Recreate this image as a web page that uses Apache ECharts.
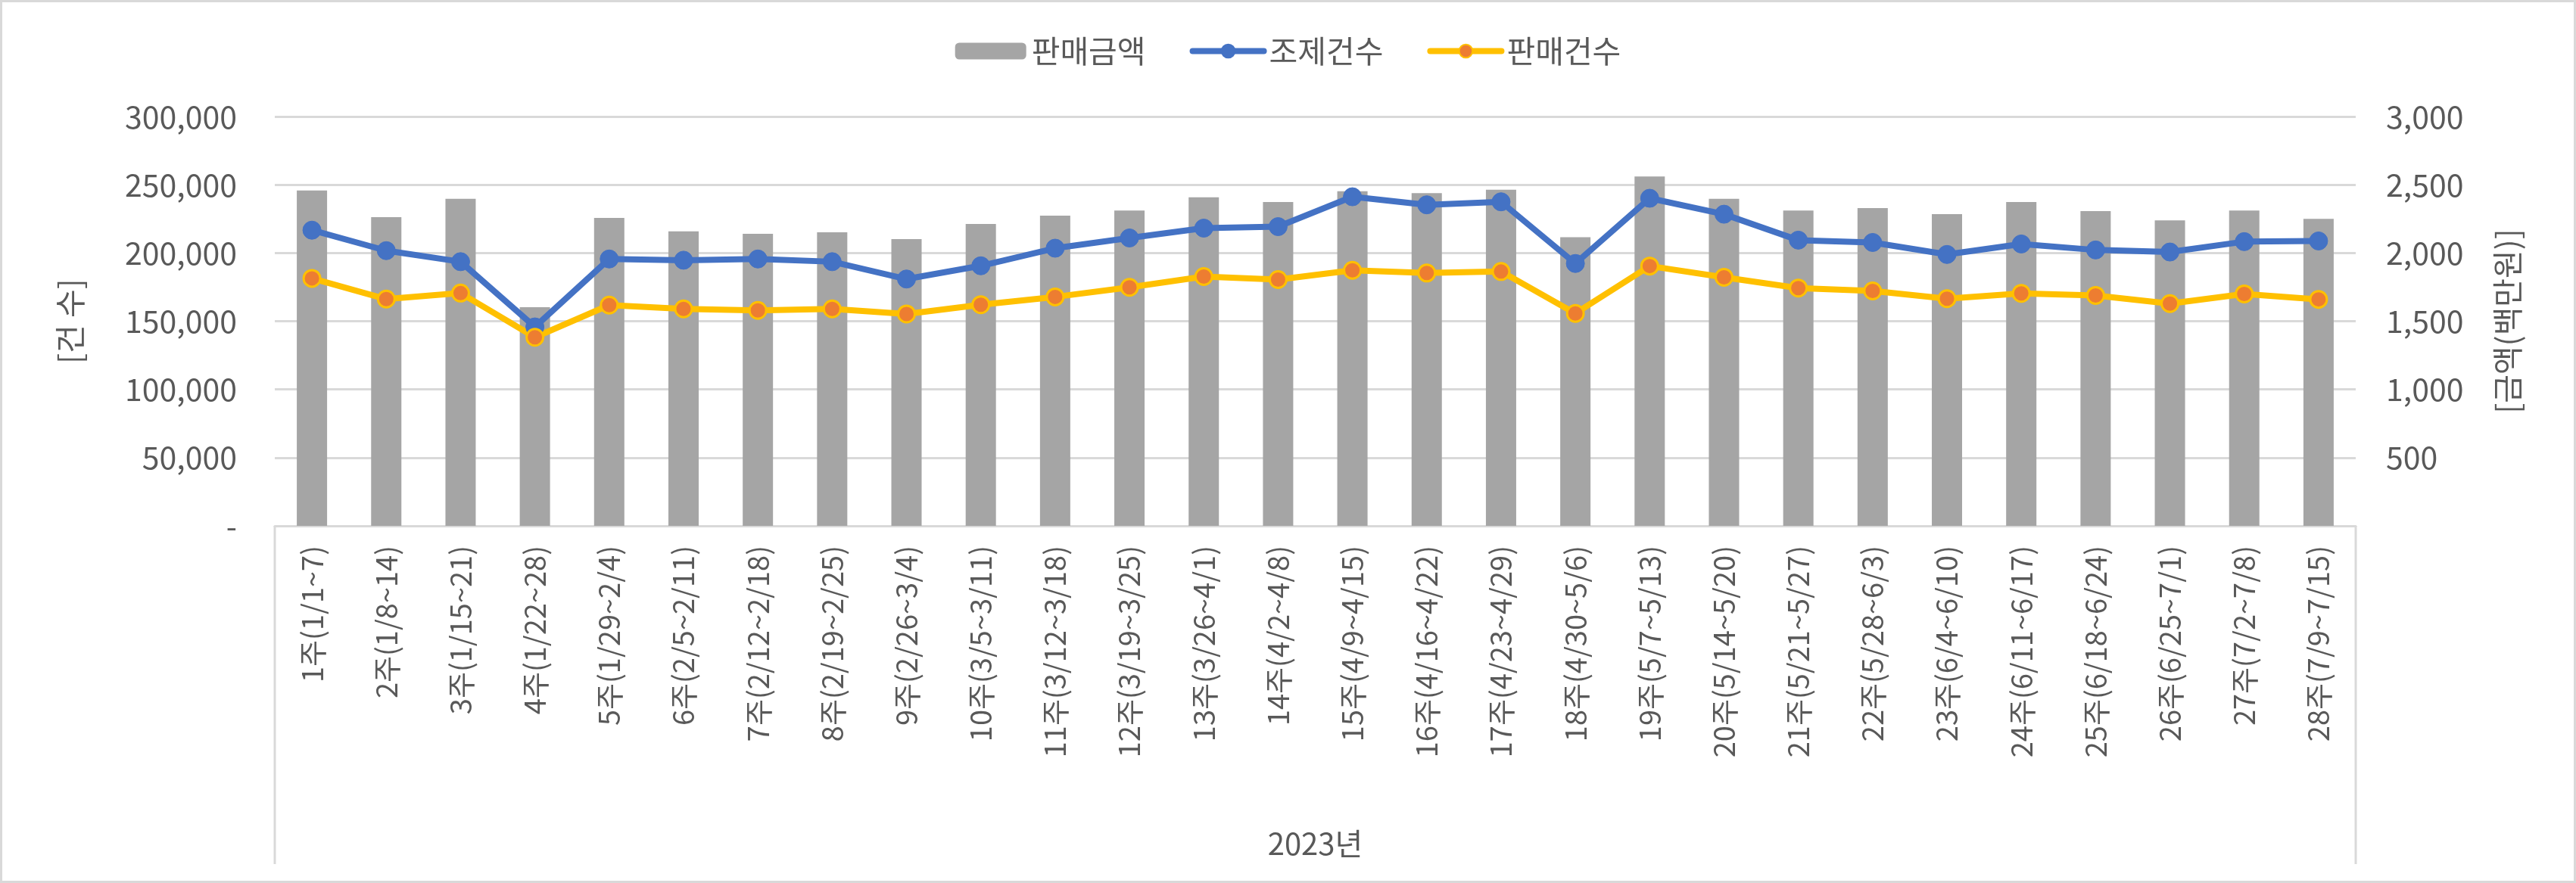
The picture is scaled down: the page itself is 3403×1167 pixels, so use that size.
<!DOCTYPE html>
<html>
<head>
<meta charset="utf-8">
<script src="https://cdn.jsdelivr.net/npm/echarts@6/dist/echarts.min.js"></script>
<style>
html,body{margin:0;padding:0;background:#fff;}
#chart{width:3403px;height:1167px;}
</style>
</head>
<body>
<div id="chart"></div>
<script>
const categories = ['1주(1/1~7)','2주(1/8~14)','3주(1/15~21)','4주(1/22~28)','5주(1/29~2/4)','6주(2/5~2/11)','7주(2/12~2/18)','8주(2/19~2/25)','9주(2/26~3/4)','10주(3/5~3/11)','11주(3/12~3/18)','12주(3/19~3/25)','13주(3/26~4/1)','14주(4/2~4/8)','15주(4/9~4/15)','16주(4/16~4/22)','17주(4/23~4/29)','18주(4/30~5/6)','19주(5/7~5/13)','20주(5/14~5/20)','21주(5/21~5/27)','22주(5/28~6/3)','23주(6/4~6/10)','24주(6/11~6/17)','25주(6/18~6/24)','26주(6/25~7/1)','27주(7/2~7/8)','28주(7/9~7/15)'];
const salesAmount = [2458,2263,2397,1603,2257,2158,2140,2151,2101,2213,2274,2311,2408,2373,2452,2439,2463,2116,2561,2397,2311,2329,2285,2373,2307,2239,2311,2250];
const dispenseCount = [216700,201700,193600,145800,195600,194700,195600,193600,180900,190600,203500,211000,218200,219300,241200,235300,237500,192300,240100,228400,209400,207700,198900,206600,202200,200700,208300,208800];
const saleCount = [181400,166200,170600,138200,161800,159000,157900,159000,155300,162100,167800,174800,182700,180500,187300,185300,186400,155700,190400,182200,174300,172200,166500,170400,168900,162900,170000,166000];
const leftTicks = {min:0,max:300000,interval:50000};
const rightTicks = {min:0,max:3000,interval:500};
const yearLabel = '2023년';

const FONT = '"Noto Sans CJK KR","Noto Sans",sans-serif';
const TXT = '#595959';
const chart = echarts.init(document.getElementById('chart'));
const fmt = v => v.toLocaleString('en-US');
chart.setOption({
  animation:false,
  textStyle:{fontFamily:FONT},
  graphic:[
    {type:'rect',shape:{x:1.5,y:1.5,width:3400,height:1164},style:{fill:'none',stroke:'#d9d9d9',lineWidth:3},z:-10},
    {type:'line',shape:{x1:363,y1:695,x2:363,y2:1142},style:{stroke:'#d9d9d9',lineWidth:3}},
    {type:'line',shape:{x1:3112,y1:695,x2:3112,y2:1142},style:{stroke:'#d9d9d9',lineWidth:3}}
  ],
  legend:{
    top:42,left:'center',itemWidth:94,itemHeight:22,itemGap:58,
    lineStyle:{width:8,cap:'round'},
    textStyle:{fontSize:41,color:TXT,fontFamily:FONT,padding:[0,0,0,2]},
    data:['판매금액','조제건수','판매건수']
  },
  grid:{left:363,right:291,top:154,bottom:472},
  xAxis:{
    type:'category',data:categories,
    axisLine:{lineStyle:{color:'#d9d9d9',width:3}},
    axisTick:{show:false},
    axisLabel:{rotate:90,fontSize:38,color:TXT,margin:26,fontFamily:FONT,interval:0},
    name:yearLabel,nameLocation:'middle',nameGap:400,
    nameTextStyle:{fontSize:40,color:TXT,fontFamily:FONT}
  },
  yAxis:[
    {type:'value',min:leftTicks.min,max:leftTicks.max,interval:leftTicks.interval,
     axisLine:{show:false},axisTick:{show:false},
     splitLine:{lineStyle:{color:'#d9d9d9',width:3}},
     axisLabel:{fontSize:41,color:TXT,margin:50,formatter:v=>v===0?'-':fmt(v)},
     name:'[건 수]',nameLocation:'middle',nameRotate:90,nameGap:250,
     nameTextStyle:{fontSize:41,color:TXT,fontFamily:FONT}},
    {type:'value',min:rightTicks.min,max:rightTicks.max,interval:rightTicks.interval,
     axisLine:{show:false},axisTick:{show:false},splitLine:{show:false},
     axisLabel:{fontSize:41,color:TXT,margin:40,formatter:v=>v===0?'':fmt(v)},
     name:'[금액(백만원)]',nameLocation:'middle',nameRotate:90,nameGap:180,
     nameTextStyle:{fontSize:41,color:TXT,fontFamily:FONT}}
  ],
  series:[
    {name:'판매금액',type:'bar',yAxisIndex:1,data:salesAmount,barWidth:40,
     itemStyle:{color:'#a5a5a5'}},
    {name:'조제건수',type:'line',yAxisIndex:0,data:dispenseCount,
     symbol:'circle',symbolSize:24,
     lineStyle:{color:'#4472c4',width:8},
     itemStyle:{color:'#4472c4',borderColor:'#4472c4',borderWidth:1}},
    {name:'판매건수',type:'line',yAxisIndex:0,data:saleCount,
     symbol:'circle',symbolSize:22,
     lineStyle:{color:'#ffc000',width:8},
     itemStyle:{color:'#ed7d31',borderColor:'#ffc000',borderWidth:3}}
  ]
});
</script>
</body>
</html>
